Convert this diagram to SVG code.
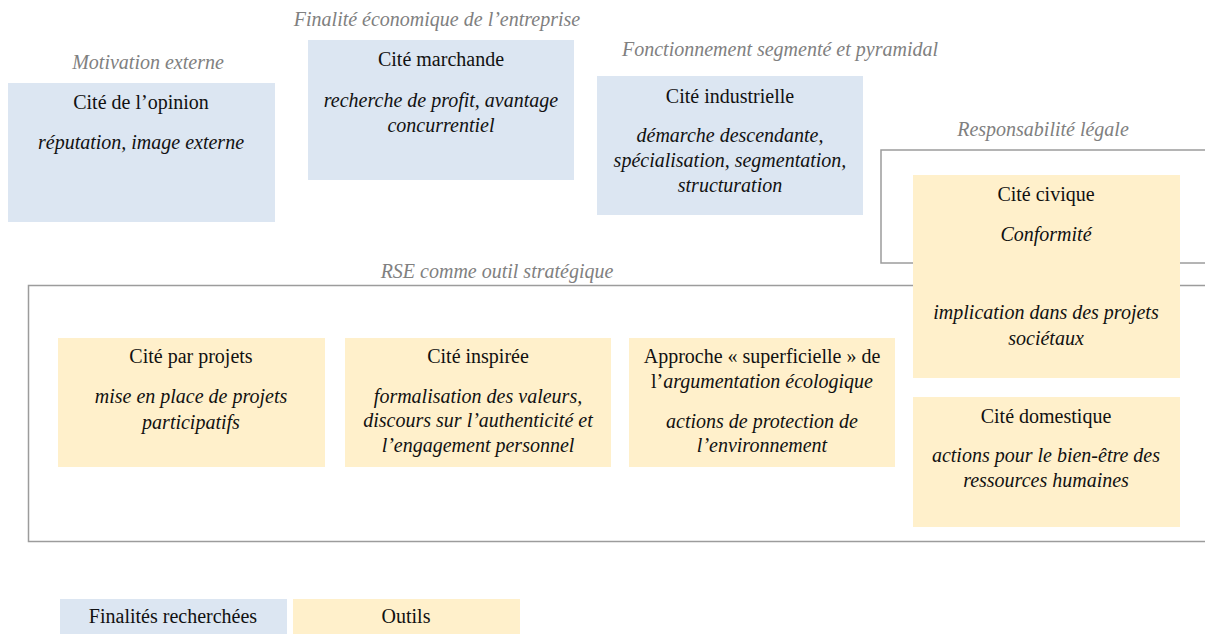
<svg xmlns="http://www.w3.org/2000/svg" width="1205" height="634" viewBox="0 0 1205 634">
<defs>
<style>
.bl{fill:#dce6f2}
.yl{fill:#fff0cb}
.fr{fill:none;stroke:#9c9c9c;stroke-width:1.5}
</style>
</defs>
<rect width="1205" height="634" fill="#fff"/>
<g id="frames">
<rect class="fr" x="881" y="150" width="340" height="113"/>
<rect class="fr" x="28.5" y="285.5" width="1200" height="256"/>
<text font-family="Times New Roman, Tinos, Liberation Serif, serif" font-size="20" text-anchor="middle" font-style="italic" fill="#808080" x="148" y="69">Motivation externe</text>
<text font-family="Times New Roman, Tinos, Liberation Serif, serif" font-size="20" text-anchor="middle" font-style="italic" fill="#808080" x="437" y="26">Finalité économique de l’entreprise</text>
<text font-family="Times New Roman, Tinos, Liberation Serif, serif" font-size="20" text-anchor="middle" font-style="italic" fill="#808080" x="780" y="56">Fonctionnement segmenté et pyramidal</text>
<text font-family="Times New Roman, Tinos, Liberation Serif, serif" font-size="20" text-anchor="middle" font-style="italic" fill="#808080" x="1043" y="136">Responsabilité légale</text>
<text font-family="Times New Roman, Tinos, Liberation Serif, serif" font-size="20" text-anchor="middle" font-style="italic" fill="#808080" x="497" y="278">RSE comme outil stratégique</text>
</g>
<g id="opinion">
<rect class="bl" x="8" y="83" width="267" height="139"/>
<text font-family="Times New Roman, Tinos, Liberation Serif, serif" font-size="20" text-anchor="middle" fill="#111" x="141" y="109">Cité de l’opinion</text>
<text font-family="Times New Roman, Tinos, Liberation Serif, serif" font-size="20" text-anchor="middle" fill="#111" font-style="italic" x="141" y="149">réputation, image externe</text>
</g>
<g id="marchande">
<rect class="bl" x="308" y="40" width="266" height="140"/>
<text font-family="Times New Roman, Tinos, Liberation Serif, serif" font-size="20" text-anchor="middle" fill="#111" x="441" y="66">Cité marchande</text>
<text font-family="Times New Roman, Tinos, Liberation Serif, serif" font-size="20" text-anchor="middle" fill="#111" font-style="italic" x="441" y="107">recherche de profit, avantage</text>
<text font-family="Times New Roman, Tinos, Liberation Serif, serif" font-size="20" text-anchor="middle" fill="#111" font-style="italic" x="441" y="132">concurrentiel</text>
</g>
<g id="industrielle">
<rect class="bl" x="597" y="76" width="266" height="139"/>
<text font-family="Times New Roman, Tinos, Liberation Serif, serif" font-size="20" text-anchor="middle" fill="#111" x="730" y="103">Cité industrielle</text>
<text font-family="Times New Roman, Tinos, Liberation Serif, serif" font-size="20" text-anchor="middle" fill="#111" font-style="italic" x="730" y="142">démarche descendante,</text>
<text font-family="Times New Roman, Tinos, Liberation Serif, serif" font-size="20" text-anchor="middle" fill="#111" font-style="italic" x="730" y="167">spécialisation, segmentation,</text>
<text font-family="Times New Roman, Tinos, Liberation Serif, serif" font-size="20" text-anchor="middle" fill="#111" font-style="italic" x="730" y="192">structuration</text>
</g>
<g id="civique">
<rect class="yl" x="913" y="175" width="267" height="203"/>
<text font-family="Times New Roman, Tinos, Liberation Serif, serif" font-size="20" text-anchor="middle" fill="#111" x="1046" y="201">Cité civique</text>
<text font-family="Times New Roman, Tinos, Liberation Serif, serif" font-size="20" text-anchor="middle" fill="#111" font-style="italic" x="1046" y="241">Conformité</text>
<text font-family="Times New Roman, Tinos, Liberation Serif, serif" font-size="20" text-anchor="middle" fill="#111" font-style="italic" x="1046" y="319">implication dans des projets</text>
<text font-family="Times New Roman, Tinos, Liberation Serif, serif" font-size="20" text-anchor="middle" fill="#111" font-style="italic" x="1046" y="345">sociétaux</text>
</g>
<g id="projets">
<rect class="yl" x="58" y="338" width="267" height="129"/>
<text font-family="Times New Roman, Tinos, Liberation Serif, serif" font-size="20" text-anchor="middle" fill="#111" x="191" y="363">Cité par projets</text>
<text font-family="Times New Roman, Tinos, Liberation Serif, serif" font-size="20" text-anchor="middle" fill="#111" font-style="italic" x="191" y="403">mise en place de projets</text>
<text font-family="Times New Roman, Tinos, Liberation Serif, serif" font-size="20" text-anchor="middle" fill="#111" font-style="italic" x="191" y="429">participatifs</text>
</g>
<g id="inspiree">
<rect class="yl" x="345" y="338" width="266" height="129"/>
<text font-family="Times New Roman, Tinos, Liberation Serif, serif" font-size="20" text-anchor="middle" fill="#111" x="478" y="363">Cité inspirée</text>
<text font-family="Times New Roman, Tinos, Liberation Serif, serif" font-size="20" text-anchor="middle" fill="#111" font-style="italic" x="478" y="403">formalisation des valeurs,</text>
<text font-family="Times New Roman, Tinos, Liberation Serif, serif" font-size="20" text-anchor="middle" fill="#111" font-style="italic" x="478" y="427">discours sur l’authenticité et</text>
<text font-family="Times New Roman, Tinos, Liberation Serif, serif" font-size="20" text-anchor="middle" fill="#111" font-style="italic" x="478" y="452">l’engagement personnel</text>
</g>
<g id="approche">
<rect class="yl" x="629" y="338" width="266" height="129"/>
<text font-family="Times New Roman, Tinos, Liberation Serif, serif" font-size="20" text-anchor="middle" fill="#111" x="762" y="363">Approche « superficielle » de</text>
<text font-family="Times New Roman, Tinos, Liberation Serif, serif" font-size="20" text-anchor="middle" fill="#111" x="762" y="388">l’<tspan font-style="italic">argumentation écologique</tspan></text>
<text font-family="Times New Roman, Tinos, Liberation Serif, serif" font-size="20" text-anchor="middle" fill="#111" font-style="italic" x="762" y="428">actions de protection de</text>
<text font-family="Times New Roman, Tinos, Liberation Serif, serif" font-size="20" text-anchor="middle" fill="#111" font-style="italic" x="762" y="452">l’environnement</text>
</g>
<g id="domestique">
<rect class="yl" x="913" y="397" width="267" height="130"/>
<text font-family="Times New Roman, Tinos, Liberation Serif, serif" font-size="20" text-anchor="middle" fill="#111" x="1046" y="423">Cité domestique</text>
<text font-family="Times New Roman, Tinos, Liberation Serif, serif" font-size="20" text-anchor="middle" fill="#111" font-style="italic" x="1046" y="462">actions pour le bien-être des</text>
<text font-family="Times New Roman, Tinos, Liberation Serif, serif" font-size="20" text-anchor="middle" fill="#111" font-style="italic" x="1046" y="487">ressources humaines</text>
</g>
<g id="legend">
<rect class="bl" x="60" y="599" width="227" height="35"/>
<text font-family="Times New Roman, Tinos, Liberation Serif, serif" font-size="20" text-anchor="middle" fill="#111" x="173" y="623">Finalités recherchées</text>
<rect class="yl" x="293" y="599" width="227" height="35"/>
<text font-family="Times New Roman, Tinos, Liberation Serif, serif" font-size="20" text-anchor="middle" fill="#111" x="406" y="623">Outils</text>
</g>
<g id="connectors"></g>
</svg>
